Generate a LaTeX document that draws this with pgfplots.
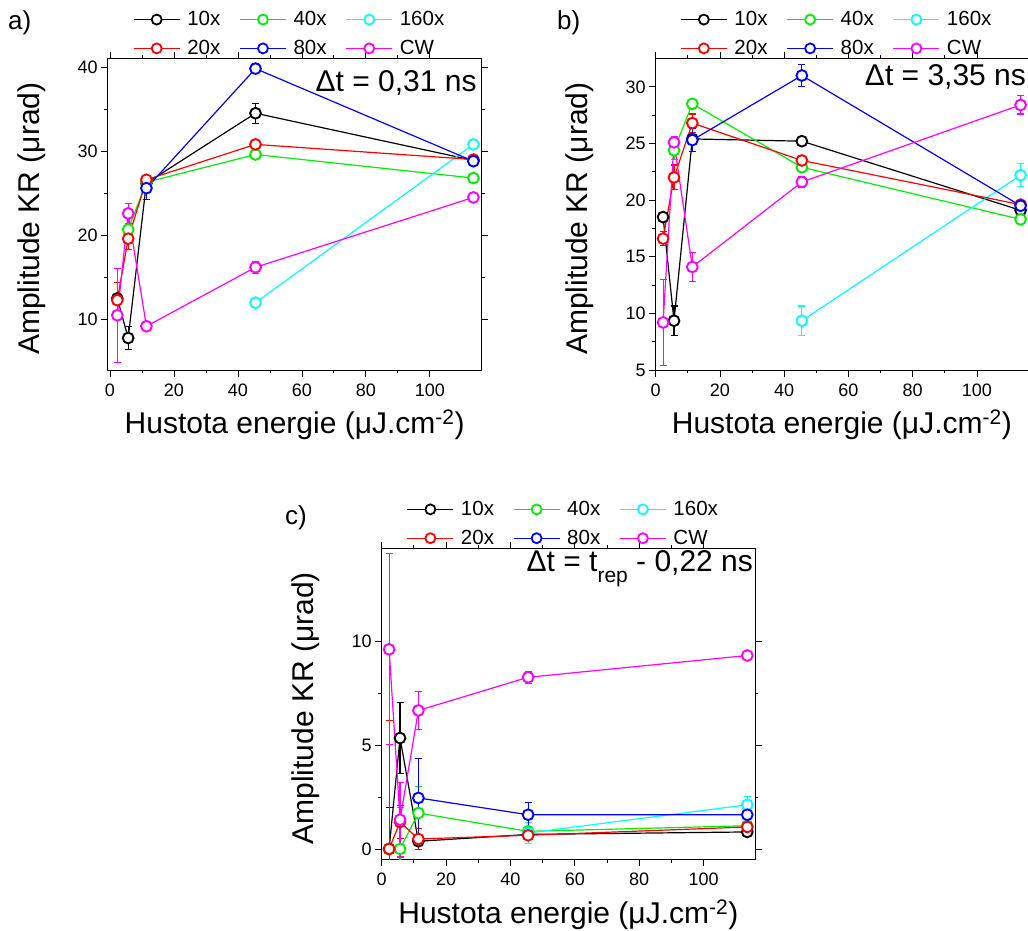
\documentclass[border=0pt]{standalone}
\usepackage{fontspec}
\setmainfont{Liberation Sans}
\usepackage{pgfplots}
\pgfplotsset{compat=1.18}
\definecolor{cred}{RGB}{255,0,0}
\definecolor{cgreen}{RGB}{0,240,0}
\definecolor{cblue}{RGB}{0,0,255}
\definecolor{ccyan}{RGB}{0,255,255}
\definecolor{cmag}{RGB}{255,0,255}
\pgfplotsset{
 kr/.style={
  scale only axis, height=311.5pt,
  xtick={0,20,...,100}, minor x tick num=1, minor y tick num=1,
  tick align=outside, major tick length=6.5pt, minor tick length=3.3pt,
  every tick/.style={black, line width=0.8pt},
  axis line style={line width=0.9pt},
  ticklabel style={font=\fontsize{18}{18}\selectfont},
  xticklabel style={yshift=-4pt},
  /pgf/number format/assume math mode=true,
  xlabel={Hustota energie (μJ.cm\textsuperscript{-2})},
  ylabel={Amplitude KR (μrad)},
  label style={font=\fontsize{30}{30}\selectfont},
  xlabel style={at={(axis description cs:0.5,-0.205)}, anchor=base},
  ylabel style={at={(axis description cs:-0.203,0.486)}, anchor=center},
  legend style={at={(0.5,1)}, anchor=south, yshift=-2pt, xshift=-5pt, draw=none, fill=none,
    font=\fontsize{20.5}{20.5}\selectfont, legend columns=3, row sep=9pt,
    /tikz/every odd column/.append style={column sep=5pt},
    /tikz/every even column/.append style={column sep=17pt}},
  legend cell align=left,
  legend image code/.code={\draw[mark repeat=2,mark phase=2,##1] plot coordinates {(0pt,0pt) (23pt,0pt) (46pt,0pt)};},
 },
 lg/.style={color=#1, line width=1.2pt, mark=*, mark size=5pt,
   mark options={line width=1.8pt, fill=white, draw=#1, solid}},
 ser/.style={color=#1, line width=1.2pt, mark=*, mark size=5.4pt,
   mark options={line width=1.9pt, fill=white, draw=#1, solid},
   error bars/.cd, y dir=both, y explicit,
   error bar style={line width=1.1pt, color=#1},
   error mark options={rotate=90, mark size=3.5pt, line width=1.1pt, color=#1}},
}
\newcommand{\krlegend}{%
\addlegendimage{lg=black}\addlegendentry{10x}
\addlegendimage{lg=cgreen}\addlegendentry{40x}
\addlegendimage{lg=ccyan}\addlegendentry{160x}
\addlegendimage{lg=cred}\addlegendentry{20x}
\addlegendimage{lg=cblue}\addlegendentry{80x}
\addlegendimage{lg=cmag}\addlegendentry{CW}}
\begin{document}
\begin{tikzpicture}
\path[use as bounding box] (0pt,0pt) rectangle (1028pt,-930pt);
% ---------------- panel a
\begin{axis}[kr, at={(107.7pt,-370pt)}, anchor=south west, width=374pt,
  xmin=-0.7, xmax=116.2, ymin=4, ymax=41, ytick={10,20,30,40}]
\krlegend
\addplot[forget plot, ser=black] coordinates {(2.3,12.5) +- (0,1.9) (5.7,7.8) +- (0,1.4) (11.4,26.2) +- (0,0.5) (45.5,34.5) +- (0,1.2) (113.6,28.9) +- (0,0.4)};
\addplot[forget plot, ser=cgreen] coordinates {(5.7,20.7) +- (0,0.5) (11.4,26.3) +- (0,0.4) (45.5,29.6) +- (0,0.4) (113.6,26.8) +- (0,0.4)};
\addplot[forget plot, ser=ccyan] coordinates {(45.5,12.0) +- (0,0.4) (113.6,30.8) +- (0,0.5)};
\addplot[forget plot, ser=cred] coordinates {(2.3,12.3) +- (0,2.1) (5.7,19.6) +- (0,1.3) (11.4,26.6) +- (0,0.4) (45.5,30.8) +- (0,0.4) (113.6,29.0) +- (0,0.4)};
\addplot[forget plot, ser=cblue] coordinates {(11.4,25.6) +- (0,1.3) (45.5,39.8) +- (0,0.6) (113.6,28.8) +- (0,0.4)};
\addplot[forget plot, ser=cmag] coordinates {(2.3,10.5) +- (0,5.6) (5.7,22.6) +- (0,1.2) (11.4,9.2) +- (0,0.3) (45.5,16.2) +- (0,0.7) (113.6,24.5) +- (0,0.3)};
\node[anchor=base east, font=\fontsize{30}{30}\selectfont, inner sep=0pt] at (axis description cs:0.987,0.893) {Δt = 0,31 ns};
\end{axis}
% ---------------- panel b
\begin{axis}[kr, at={(655.7pt,-370pt)}, anchor=south west, width=372.3pt,
  xmin=0, xmax=115.9, ymin=5, ymax=32.5, ytick={5,10,...,30}]
\krlegend
\addplot[forget plot, ser=black] coordinates {(2.3,18.5) +- (0,0.3) (5.7,9.35) +- (0,1.3) (11.4,25.4) +- (0,0.4) (45.5,25.2) +- (0,0.3) (113.6,19.1) +- (0,0.3)};
\addplot[forget plot, ser=cgreen] coordinates {(5.7,24.4) +- (0,0.8) (11.4,28.5) +- (0,0.3) (45.5,22.9) +- (0,0.4) (113.6,18.3) +- (0,0.3)};
\addplot[forget plot, ser=ccyan] coordinates {(45.5,9.35) +- (0,1.3) (113.6,22.2) +- (0,1.0)};
\addplot[forget plot, ser=cred] coordinates {(2.3,16.6) +- (0,0.6) (5.7,22.0) +- (0,1.1) (11.4,26.8) +- (0,0.8) (45.5,23.5) +- (0,0.4) (113.6,19.6) +- (0,0.3)};
\addplot[forget plot, ser=cblue] coordinates {(11.4,25.3) +- (0,1.0) (45.5,31.0) +- (0,1.0) (113.6,19.5) +- (0,0.3)};
\addplot[forget plot, ser=cmag] coordinates {(2.3,9.2) +- (0,3.8) (5.7,25.1) +- (0,0.5) (11.4,14.1) +- (0,1.3) (45.5,21.6) +- (0,0.5) (113.6,28.4) +- (0,0.8)};
\node[anchor=base east, font=\fontsize{30}{30}\selectfont, inner sep=0pt] at (axis description cs:0.995,0.914) {Δt = 3,35 ns};
\end{axis}
% ---------------- panel c
\begin{axis}[kr, at={(381.7pt,-859.3pt)}, anchor=south west, width=373.3pt, height=311pt,
  xmin=0, xmax=116, ymin=-0.5, ymax=14.5, ytick={0,5,10}]
\krlegend
\addplot[forget plot, ser=black] coordinates {(2.3,0) +- (0,2.0) (5.7,5.35) +- (0,1.7) (11.4,0.37) +- (0,0.2) (45.5,0.7) +- (0,0.1) (113.6,0.82) +- (0,0.1)};
\addplot[forget plot, ser=cgreen] coordinates {(5.7,0) +- (0,2.0) (11.4,1.73) +- (0,1.3) (45.5,0.85) +- (0,0.2) (113.6,1.12) +- (0,0.1)};
\addplot[forget plot, ser=ccyan] coordinates {(45.5,0.77) +- (0,0.5) (113.6,2.13) +- (0,0.4)};
\addplot[forget plot, ser=cred] coordinates {(2.3,0) +- (0,6.2) (5.7,1.3) +- (0,0.8) (11.4,0.48) +- (0,0.5) (45.5,0.66) +- (0,0.1) (113.6,1.06) +- (0,0.1)};
\addplot[forget plot, ser=cblue] coordinates {(11.4,2.46) +- (0,1.9) (45.5,1.65) +- (0,0.6) (113.6,1.65) +- (0,0.2)};
\addplot[forget plot, ser=cmag] coordinates {(2.3,9.63) +- (0,4.6) (5.7,1.41) +- (0,1.8) (11.4,6.68) +- (0,0.9) (45.5,8.28) +- (0,0.3) (113.6,9.33) +- (0,0.2)};
\node[anchor=base east, font=\fontsize{30}{30}\selectfont, inner sep=0pt] at (axis description cs:0.995,0.924) {Δt = t\raisebox{-11pt}{\fontsize{21}{21}\selectfont rep} - 0,22 ns};
\end{axis}
% panel letters
\node[anchor=base west, inner sep=0pt, font=\fontsize{26}{26}\selectfont] at (8pt,-29.5pt) {a)};
\node[anchor=base west, inner sep=0pt, font=\fontsize{26}{26}\selectfont] at (557pt,-29.5pt) {b)};
\node[anchor=base west, inner sep=0pt, font=\fontsize{26}{26}\selectfont] at (285pt,-524pt) {c)};
\end{tikzpicture}
\end{document}
